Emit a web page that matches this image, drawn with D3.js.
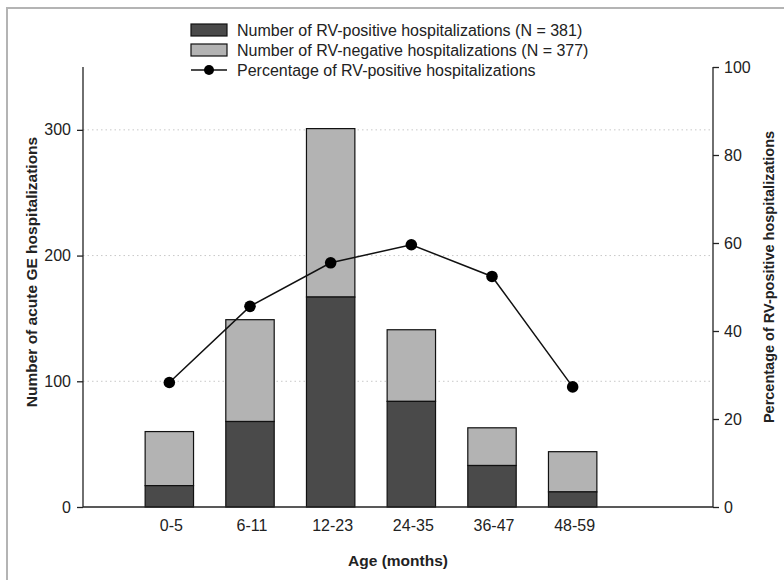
<!DOCTYPE html>
<html>
<head>
<meta charset="utf-8">
<script src="https://cdn.jsdelivr.net/npm/d3@7"></script>
<style>
  body { margin: 0; background: #fff; }
  svg { display: block; font-family: "Liberation Sans", Arial, sans-serif; }
</style>
</head>
<body>
<svg id="chart" width="784" height="580"></svg>
<script>
// age groups and counts
const ageGroups = ['0-5', '6-11', '12-23', '24-35', '36-47', '48-59'];
const rvPositive = [17, 68, 167, 84, 33, 12];
const rvNegative = [43, 81, 134, 57, 30, 32];
const pctPositive = [28.3, 45.6, 55.5, 59.6, 52.4, 27.3];
const countTicks = [0, 100, 200, 300];
const pctTicks = [0, 20, 40, 60, 80, 100];

const svg = d3.select('#chart');

// figure frame (only top and left edges fall inside the picture)
svg.append('rect')
  .attr('x', 7).attr('y', 8)
  .attr('width', 900).attr('height', 700)
  .attr('fill', 'none')
  .attr('stroke', '#b4b4b4')
  .attr('stroke-width', 2);

const plotLeft = 83, plotRight = 713, plotTop = 67, plotBottom = 507;

const x = d3.scaleBand()
  .domain(ageGroups)
  .range([129, 613])
  .paddingInner(0.4)
  .paddingOuter(0.2);

const y = d3.scaleLinear().domain([0, 350]).range([plotBottom, plotTop]);
const yPct = d3.scaleLinear().domain([0, 100]).range([plotBottom, plotTop]);

// dotted grid
svg.append('g')
  .selectAll('line')
  .data(countTicks.filter(d => d > 0))
  .join('line')
  .attr('x1', plotLeft).attr('x2', plotRight)
  .attr('y1', d => y(d)).attr('y2', d => y(d))
  .attr('stroke', '#c8c8c8')
  .attr('stroke-dasharray', '1.5,3');

const stacked = ageGroups.map((g, i) => ({
  group: g, pos: rvPositive[i], neg: rvNegative[i], pct: pctPositive[i],
}));

const bars = svg.append('g');
bars.selectAll('.neg')
  .data(stacked)
  .join('rect')
  .attr('class', 'neg')
  .attr('x', d => x(d.group))
  .attr('width', x.bandwidth())
  .attr('y', d => y(d.pos + d.neg))
  .attr('height', d => y(d.pos) - y(d.pos + d.neg))
  .attr('fill', '#b3b3b3')
  .attr('stroke', '#111')
  .attr('stroke-width', 1.2);
bars.selectAll('.pos')
  .data(stacked)
  .join('rect')
  .attr('class', 'pos')
  .attr('x', d => x(d.group))
  .attr('width', x.bandwidth())
  .attr('y', d => y(d.pos))
  .attr('height', d => y(0) - y(d.pos))
  .attr('fill', '#4a4a4a')
  .attr('stroke', '#111')
  .attr('stroke-width', 1.2);

// axes
const yAxis = svg.append('g')
  .attr('transform', `translate(${plotLeft},0)`)
  .call(d3.axisLeft(y).tickValues(countTicks).tickSize(6).tickPadding(6));
const yAxisR = svg.append('g')
  .attr('transform', `translate(${plotRight},0)`)
  .call(d3.axisRight(yPct).tickValues(pctTicks).tickSize(6).tickPadding(5));
[yAxis, yAxisR].forEach(a => {
  a.select('.domain')
    .attr('d', `M0,${plotTop}V${plotBottom}`)
    .attr('stroke', '#222').attr('stroke-width', 1.3);
  a.selectAll('.tick line').attr('stroke', '#222').attr('stroke-width', 1.3);
  a.selectAll('.tick text')
    .attr('fill', '#222')
    .style('font-size', '16px')
    .style('font-family', '"Liberation Sans", Arial, sans-serif');
});

const xAxis = svg.append('g')
  .attr('transform', `translate(0,${plotBottom})`);
xAxis.append('line')
  .attr('x1', plotLeft).attr('x2', plotRight)
  .attr('stroke', '#222').attr('stroke-width', 1.3);
xAxis.selectAll('text')
  .data(ageGroups)
  .join('text')
  .attr('x', d => x(d) + x.bandwidth() / 2 + 2)
  .attr('y', 24)
  .attr('text-anchor', 'middle')
  .attr('fill', '#222')
  .style('font-size', '16px')
  .text(d => d);

// percentage line
const line = d3.line()
  .x(d => x(d.group) + x.bandwidth() / 2)
  .y(d => yPct(d.pct));
svg.append('path')
  .datum(stacked)
  .attr('d', line)
  .attr('fill', 'none')
  .attr('stroke', '#111')
  .attr('stroke-width', 1.5);
svg.append('g')
  .selectAll('circle')
  .data(stacked)
  .join('circle')
  .attr('cx', d => x(d.group) + x.bandwidth() / 2)
  .attr('cy', d => yPct(d.pct))
  .attr('r', 5.8)
  .attr('fill', '#000');

// titles
svg.append('text')
  .attr('transform', 'translate(37,272) rotate(-90)')
  .attr('text-anchor', 'middle')
  .attr('font-weight', 'bold')
  .attr('fill', '#222')
  .style('font-size', '15.5px')
  .text('Number of acute GE hospitalizations');
svg.append('text')
  .attr('transform', 'translate(774,277) rotate(-90)')
  .attr('text-anchor', 'middle')
  .attr('font-weight', 'bold')
  .attr('fill', '#222')
  .style('font-size', '14.5px')
  .text('Percentage of RV-positive hospitalizations');
svg.append('text')
  .attr('x', 398).attr('y', 566)
  .attr('text-anchor', 'middle')
  .attr('font-weight', 'bold')
  .attr('fill', '#222')
  .style('font-size', '15.5px')
  .text('Age (months)');

// legend
const legendItems = [
  { label: 'Number of RV-positive hospitalizations (N = 381)', fill: '#4a4a4a', type: 'rect' },
  { label: 'Number of RV-negative hospitalizations (N = 377)', fill: '#b3b3b3', type: 'rect' },
  { label: 'Percentage of RV-positive hospitalizations', type: 'line' },
];
const legend = svg.append('g').attr('transform', 'translate(191,30)');
legendItems.forEach((it, i) => {
  const g = legend.append('g').attr('transform', `translate(0,${i * 20})`);
  if (it.type === 'rect') {
    g.append('rect')
      .attr('x', 0).attr('y', -6)
      .attr('width', 36).attr('height', 12)
      .attr('fill', it.fill)
      .attr('stroke', '#111')
      .attr('stroke-width', 1.2);
  } else {
    g.append('line').attr('x1', 0).attr('x2', 36)
      .attr('stroke', '#111').attr('stroke-width', 1.5);
    g.append('circle').attr('cx', 18).attr('r', 5).attr('fill', '#000');
  }
  g.append('text')
    .attr('x', 46).attr('y', 5.5)
    .attr('fill', '#222')
    .style('font-size', '16px')
    .text(it.label);
});
</script>
</body>
</html>
